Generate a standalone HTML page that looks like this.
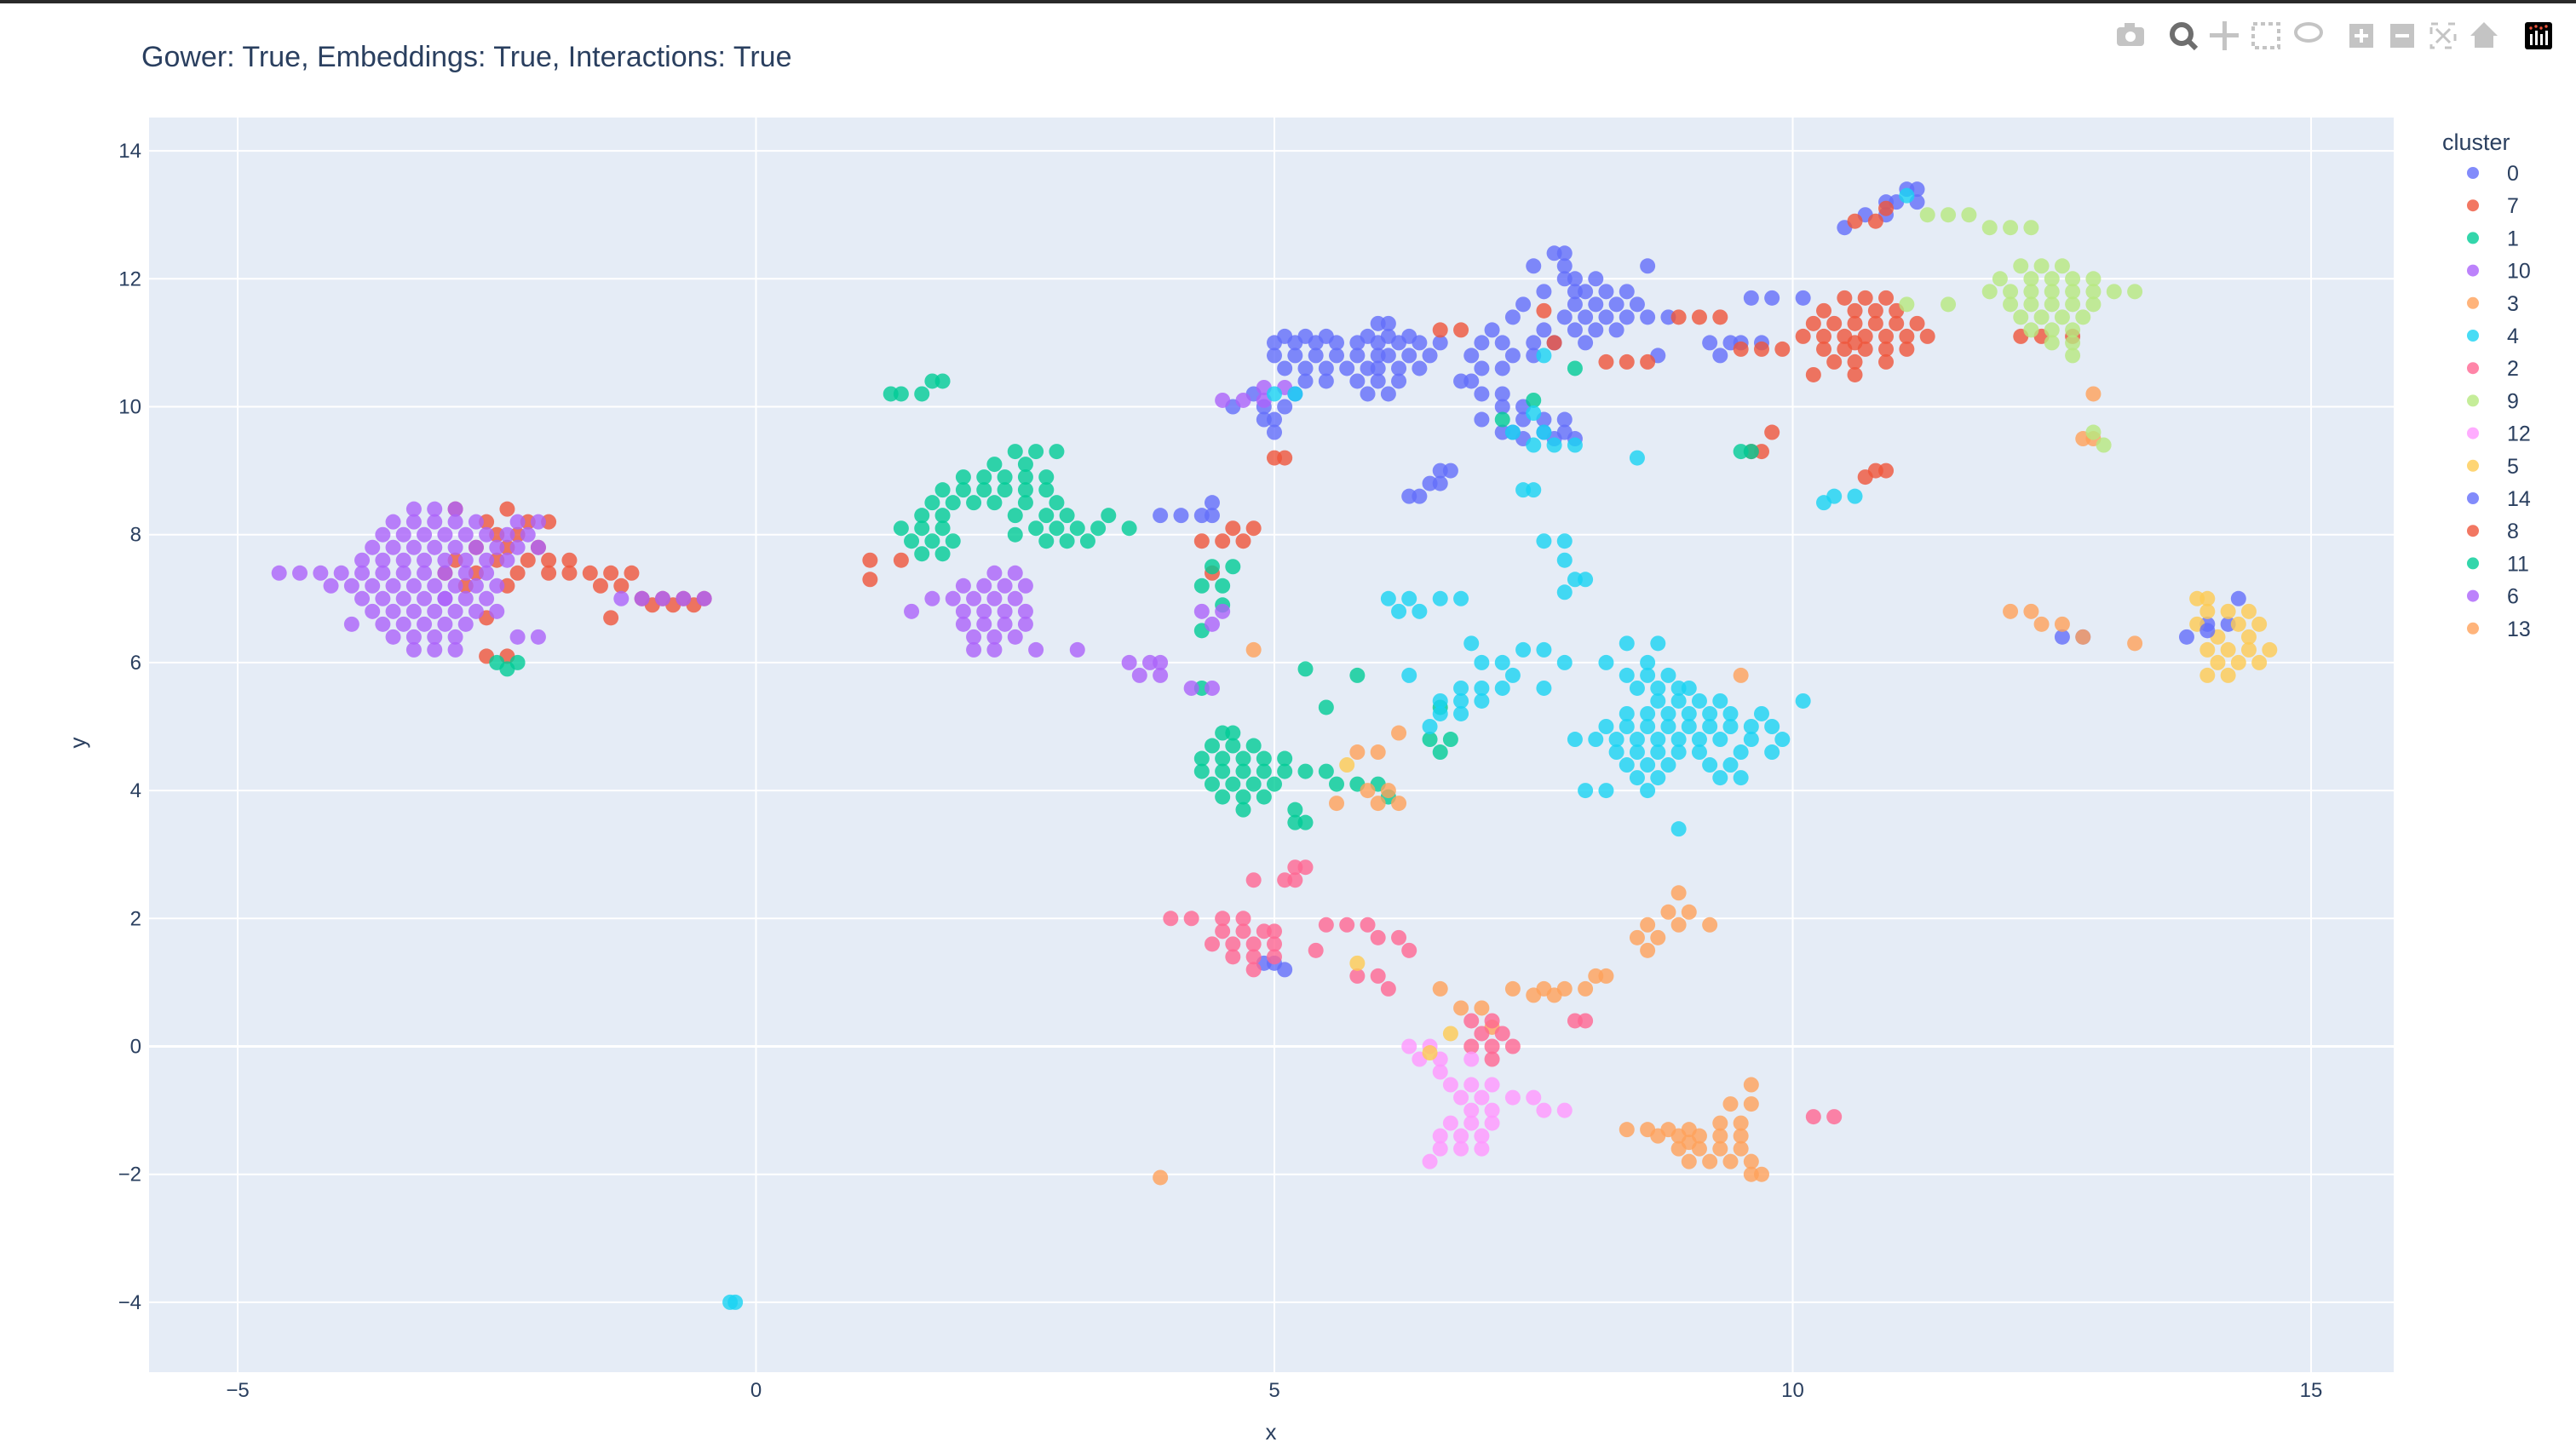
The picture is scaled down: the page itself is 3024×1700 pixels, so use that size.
<!DOCTYPE html>
<html><head><meta charset="utf-8"><style>
html,body{margin:0;padding:0;background:#fff;width:3024px;height:1700px;overflow:hidden;font-family:"Liberation Sans",sans-serif}
</style></head><body>
<svg id="chart" width="3024" height="1700" xmlns="http://www.w3.org/2000/svg" style="display:block">
<rect x="0" y="0" width="3024" height="4" fill="#2a2a2a"/>
<text x="166" y="78" font-size="34" fill="#2a3f5f">Gower: True, Embeddings: True, Interactions: True</text>
<rect x="175" y="138" width="2635" height="1473" fill="#e5ecf6"/>
<g id="grid"></g>
<g id="ticks"></g>
<g id="points"></g>
<text x="1492" y="1690" font-size="26" fill="#2a3f5f" text-anchor="middle">x</text>
<text x="100" y="872" font-size="26" fill="#2a3f5f" text-anchor="middle" transform="rotate(-90 100 872)">y</text>
<text x="2867" y="176" font-size="27" fill="#2a3f5f">cluster</text>
<g id="legend"></g>
<g fill="#c4c4c4">
 <g><rect x="2485" y="32" width="32" height="22" rx="4"/><rect x="2494" y="27" width="12" height="6"/><circle cx="2501" cy="43" r="6" fill="#fff"/></g>
 <g><circle cx="2561" cy="40" r="11" fill="none" stroke="#6e6e6e" stroke-width="6"/><line x1="2569" y1="48" x2="2578" y2="57" stroke="#6e6e6e" stroke-width="6"/></g>
 <g><rect x="2594" y="39" width="34" height="5"/><rect x="2609" y="25" width="5" height="34"/></g>
 <g><rect x="2645" y="28" width="30" height="28" fill="none" stroke="#c4c4c4" stroke-width="4" stroke-dasharray="5 4"/></g>
 <g><ellipse cx="2710" cy="38" rx="15" ry="10" fill="none" stroke="#c4c4c4" stroke-width="4"/></g>
 <g><rect x="2758" y="28" width="28" height="28"/><rect x="2764" y="40" width="16" height="4" fill="#fff"/><rect x="2770" y="34" width="4" height="16" fill="#fff"/></g>
 <g><rect x="2806" y="28" width="28" height="28"/><rect x="2812" y="40" width="16" height="4" fill="#fff"/></g>
 <g><rect x="2854" y="28" width="28" height="28" fill="none" stroke="#c4c4c4" stroke-width="3" stroke-dasharray="8 12"/><line x1="2860" y1="34" x2="2876" y2="50" stroke="#c4c4c4" stroke-width="3"/><line x1="2876" y1="34" x2="2860" y2="50" stroke="#c4c4c4" stroke-width="3"/></g>
 <g><polygon points="2916,26 2900,42 2905,42 2905,56 2927,56 2927,42 2932,42"/></g>
 <g><rect x="2964" y="26" width="32" height="32" rx="3" fill="#000"/><rect x="2970" y="40" width="3" height="13" fill="#fff"/><rect x="2976" y="36" width="3" height="17" fill="#fff"/><rect x="2982" y="40" width="3" height="13" fill="#fff"/><rect x="2988" y="36" width="3" height="17" fill="#fff"/><circle cx="2971" cy="33" r="1.7" fill="#ef553b"/><circle cx="2977" cy="31" r="1.7" fill="#ef553b"/><circle cx="2983" cy="33" r="1.7" fill="#ef553b"/><circle cx="2989" cy="31" r="1.7" fill="#ef553b"/></g>
</g>
</svg>
<script>
const xTicks = [-5, 0, 5, 10, 15];
const yTicks = [14, 12, 10, 8, 6, 4, 2, 0, -2, -4];
const clusterNames = ["0","7","1","10","3","4","2","9","12","5","14","8","11","6","13"];
const clusterColors = ["#636efa","#EF553B","#00cc96","#ab63fa","#FFA15A","#19d3f3","#FF6692","#B6E880","#FF97FF","#FECB52","#636efa","#EF553B","#00cc96","#ab63fa","#FFA15A"];
// each row: [y, [x values]]
const c0 = [[11.3,[6.0,6.1]],[11.1,[5.1,5.3,5.5,5.9,6.1,6.3]],[11.0,[5.0,5.2,5.4,5.6,5.8,6.0,6.2,6.4,6.6]],[10.8,[5.0,5.2,5.4,5.6,5.8,6.0,6.1,6.3,6.5]],[10.6,[5.1,5.3,5.5,5.7,5.9,6.0,6.2,6.4]],[10.4,[5.3,5.5,5.8,6.0,6.2,6.8,6.9]],[10.2,[4.8,5.2,5.9,6.1,7.0,7.2]],[10.0,[4.6,4.9,5.1,7.2,7.4]],[9.8,[4.9,5.0,7.0,7.4,7.6,7.8]],[9.6,[5.0,7.2,7.3,7.6,7.8]],[9.5,[7.4,7.7,7.9]],[9.0,[6.6,6.7]],[8.8,[6.5,6.6]],[8.6,[6.3,6.4]],[12.4,[7.7,7.8]],[12.2,[7.5,7.8,8.6]],[12.0,[7.8,7.9,8.1]],[11.8,[7.6,7.9,8.0,8.2,8.4]],[11.6,[7.4,7.9,8.1,8.3,8.5]],[11.4,[7.3,7.8,8.0,8.2,8.4,8.6,8.8]],[11.2,[7.1,7.6,7.9,8.1,8.3]],[11.0,[7.0,7.2,7.5,7.7,8.0,9.2,9.4,9.5,9.7]],[10.8,[6.9,7.3,7.5,8.7,9.3]],[10.6,[7.0,7.2]],[11.7,[9.6,9.8,10.1]],[13.4,[11.1,11.2]],[13.2,[10.9,11.0,11.2]],[13.0,[10.7,10.9]],[12.8,[10.5]],[8.3,[3.9,4.1,4.3,4.4]],[8.5,[4.4]],[6.6,[14.0,14.2]],[7.0,[14.3]],[6.4,[13.8,12.6,12.8]],[1.3,[4.9,5.0]],[1.2,[5.1]]];
const c7 = [[8.4,[-2.9,-2.4]],[8.2,[-2.6,-2.2,-2.0]],[8.0,[-2.5,-2.3]],[7.8,[-2.7,-2.4,-2.1]],[7.6,[-2.9,-2.5,-2.2,-2.0,-1.8]],[7.4,[-3.0,-2.7,-2.3,-2.0,-1.8,-1.6,-1.4,-1.2]],[7.2,[-2.8,-2.4,-1.5,-1.3]],[7.0,[-1.1,-0.9,-0.7,-0.5]],[6.9,[-1.0,-0.8,-0.6]],[6.7,[-1.4,-2.6]],[6.1,[-2.6,-2.4]],[7.6,[1.1,1.4]],[7.3,[1.1]],[7.9,[4.3,4.5,4.7]],[8.1,[4.6,4.8]],[7.4,[4.4]],[9.2,[5.0,5.1]],[11.7,[10.5,10.7,10.9]],[11.5,[10.3,10.6,10.8,11.0]],[11.3,[10.2,10.4,10.6,10.8,11.0,11.2]],[11.1,[10.1,10.3,10.5,10.7,10.9,11.1,11.3]],[10.9,[10.3,10.5,10.7,10.9,11.1]],[10.7,[10.4,10.6,10.9]],[10.5,[10.2,10.6]],[12.9,[10.6,10.8]],[13.1,[10.9]],[10.7,[8.2,8.4,8.6]],[10.9,[9.5,9.7,9.9]],[11.4,[8.9,9.1,9.3]],[11.1,[12.2,12.4,12.7]],[9.6,[9.8]],[9.3,[9.6,9.7]],[9.0,[10.8,10.9]],[8.9,[10.7]],[11.2,[6.6,6.8]],[11.0,[7.7]],[11.5,[7.6]]];
const c1 = [[10.4,[1.7,1.8]],[10.2,[1.3,1.4,1.6]],[9.3,[2.5,2.7,2.9]],[9.1,[2.3,2.6]],[8.9,[2.0,2.2,2.4,2.6,2.8]],[8.7,[1.8,2.0,2.2,2.4,2.6,2.8]],[8.5,[1.7,1.9,2.1,2.3,2.6,2.9]],[8.3,[1.6,1.8,2.5,2.8,3.0,3.4]],[8.1,[1.4,1.6,1.8,2.7,2.9,3.1,3.3,3.6]],[7.9,[1.5,1.7,1.9,2.8,3.0,3.2]],[7.7,[1.6,1.8]],[7.5,[4.4,4.6]],[7.2,[4.3,4.5]],[6.9,[4.5]],[6.5,[4.3]],[4.9,[4.5,4.6]],[4.7,[4.4,4.6,4.8]],[4.5,[4.3,4.5,4.7,4.9,5.1]],[4.3,[4.3,4.5,4.7,4.9,5.1,5.3,5.5]],[4.1,[4.4,4.6,4.8,5.0,5.6,5.8,6.0]],[3.9,[4.5,4.7,4.9,6.1]],[3.7,[4.7,5.2]],[3.5,[5.2,5.3]],[4.8,[6.5,6.7]],[4.6,[6.6]],[5.9,[5.3]],[5.6,[4.3]],[5.3,[6.6,5.5]],[5.8,[5.8]],[6.0,[-2.5,-2.3]],[5.9,[-2.4]],[9.3,[9.5,9.6]],[9.8,[7.2]],[10.1,[7.5]],[10.6,[7.9]]];
const c10 = [[8.4,[-3.3,-3.1,-2.9]],[8.2,[-3.5,-3.3,-3.1,-2.9,-2.7,-2.3,-2.1]],[8.0,[-3.6,-3.4,-3.2,-3.0,-2.8,-2.6,-2.4,-2.2]],[7.8,[-3.7,-3.5,-3.3,-3.1,-2.9,-2.7,-2.5,-2.3,-2.1]],[7.6,[-3.8,-3.6,-3.4,-3.2,-3.0,-2.8,-2.6,-2.4]],[7.4,[-4.6,-4.4,-4.2,-4.0,-3.8,-3.6,-3.4,-3.2,-3.0,-2.8,-2.6]],[7.2,[-4.1,-3.9,-3.7,-3.5,-3.3,-3.1,-2.9,-2.7,-2.5]],[7.0,[-3.8,-3.6,-3.4,-3.2,-3.0,-2.8,-2.6,-1.3,-1.1,-0.9,-0.7,-0.5]],[6.8,[-3.7,-3.5,-3.3,-3.1,-2.9,-2.7,-2.5]],[6.6,[-3.9,-3.6,-3.4,-3.2,-3.0,-2.8]],[6.4,[-3.5,-3.3,-3.1,-2.9,-2.3,-2.1]],[6.2,[-3.3,-3.1,-2.9]],[7.4,[2.3,2.5]],[7.2,[2.0,2.2,2.4,2.6]],[7.0,[1.7,1.9,2.1,2.3,2.5]],[6.8,[1.5,2.0,2.2,2.4,2.6]],[6.6,[2.0,2.2,2.4,2.6]],[6.4,[2.1,2.3,2.5]],[6.2,[2.1,2.3,2.7,3.1]],[6.0,[3.6,3.8,3.9]],[5.8,[3.7,3.9]],[5.6,[4.2,4.4]],[6.8,[4.3,4.5]],[6.6,[4.4]],[10.1,[4.5,4.7,4.9]],[10.3,[4.9,5.1]]];
const c3 = [[-1.3,[8.6,8.8,9.0,8.4]],[-1.4,[8.7,8.9,9.1,9.3,9.5]],[-1.6,[8.9,9.1,9.3,9.5]],[-1.8,[9.0,9.2,9.4,9.6]],[-2.0,[9.6,9.7]],[-1.2,[9.3,9.5]],[-0.9,[9.4,9.6]],[-0.6,[9.6]],[2.4,[8.9]],[2.1,[8.8,9.0]],[1.9,[8.6,8.9,9.2]],[1.7,[8.5,8.7]],[1.5,[8.6]],[1.1,[8.1,8.2]],[0.9,[7.6,7.8,8.0,6.6,7.3]],[0.8,[7.5,7.7]],[4.9,[6.2]],[4.6,[5.8,6.0]],[4.0,[5.9,6.1]],[3.8,[5.6,6.0,6.2]],[6.8,[12.1,12.3]],[6.6,[12.4,12.6]],[6.4,[12.8]],[6.3,[13.3]],[10.2,[12.9]],[9.5,[12.8,12.9]],[-2.05,[3.9]],[0.6,[6.8,7.0]],[0.3,[7.1]],[6.2,[4.8]],[5.8,[9.5]]];
const c4 = [[6.0,[8.6,7.8,8.2,7.0,7.2]],[5.8,[8.4,8.6,8.8,7.3,6.3]],[5.6,[7.6,8.5,8.7,8.9,9.0,6.8,7.0,7.2]],[5.4,[8.7,8.9,9.1,9.3,6.6,6.8,7.0,10.1]],[5.2,[8.4,8.6,8.8,9.0,9.2,9.4,9.7,6.6,6.8]],[5.0,[8.2,8.4,8.6,8.8,9.0,9.2,9.4,9.6,9.8,6.5]],[4.8,[7.9,8.1,8.3,8.5,8.7,8.9,9.1,9.3,9.6,9.9]],[4.6,[8.3,8.5,8.7,8.9,9.1,9.5,9.8]],[4.4,[8.4,8.6,8.8,9.2,9.4]],[4.2,[8.5,8.7,9.3,9.5]],[4.0,[8.0,8.2,8.6]],[3.4,[8.9]],[6.3,[8.4,8.7,6.9]],[6.2,[7.4,7.6]],[7.0,[6.1,6.3,6.6,6.8]],[6.8,[6.2,6.4]],[7.9,[7.6,7.8]],[7.6,[7.8]],[7.3,[7.9,8.0]],[7.1,[7.8]],[8.7,[7.4,7.5]],[9.4,[7.5,7.7,7.9]],[9.6,[7.3,7.6]],[9.9,[7.5]],[9.2,[8.5]],[8.6,[10.4,10.6]],[8.5,[10.3]],[10.2,[5.2,5.0]],[10.8,[7.6]],[13.3,[11.1]],[-4.0,[-0.2,-0.25]]];
const c2 = [[2.0,[4.5,4.7,4.0,4.2]],[1.8,[4.5,4.7,4.9,5.0]],[1.6,[4.4,4.6,4.8,5.0]],[1.4,[4.6,4.8,5.0]],[1.2,[4.8]],[2.6,[4.8,5.1,5.2]],[2.8,[5.2,5.3]],[1.9,[5.5,5.7,5.9]],[1.7,[6.0,6.2]],[1.5,[5.4,6.3]],[1.1,[5.8,6.0]],[0.9,[6.1]],[0.4,[6.9,7.1,7.9,8.0]],[0.2,[7.0,7.2]],[0.0,[6.9,7.1,7.3]],[-0.2,[7.1]],[-1.1,[10.2,10.4]]];
const c9 = [[12.2,[12.2,12.4,12.6]],[12.0,[12.0,12.3,12.5,12.7,12.9]],[11.8,[11.9,12.1,12.3,12.5,12.7,12.9,13.1,13.3]],[11.6,[12.1,12.3,12.5,12.7,12.9,11.1,11.5]],[11.4,[12.2,12.4,12.6,12.8]],[11.2,[12.3,12.5,12.7]],[11.0,[12.5,12.7]],[10.8,[12.7]],[13.0,[11.3,11.5,11.7]],[12.8,[11.9,12.1,12.3]],[9.6,[12.9]],[9.4,[13.0]]];
const c12 = [[0.0,[6.3,6.5]],[-0.2,[6.4,6.6,6.9]],[-0.4,[6.6]],[-0.6,[6.7,6.9,7.1]],[-0.8,[6.8,7.0,7.3,7.5]],[-1.0,[6.9,7.1,7.6,7.8]],[-1.2,[6.7,6.9,7.1]],[-1.4,[6.6,6.8,7.0]],[-1.6,[6.6,6.8,7.0]],[-1.8,[6.5]]];
const c5 = [[7.0,[13.9,14.0]],[6.8,[14.0,14.2,14.4]],[6.6,[13.9,14.3,14.5]],[6.4,[14.1,14.4]],[6.2,[14.0,14.2,14.4,14.6]],[6.0,[14.1,14.3,14.5]],[5.8,[14.0,14.2]],[-0.1,[6.5]],[0.2,[6.7]],[1.3,[5.8]],[4.4,[5.7]]];
const c14 = [[6.5,[14.0]]];
const c8 = [[11.0,[10.6]]];
const c11 = [[8.0,[2.5]]];
const c6 = [[7.0,[-3.0]]];
const c13 = [[-1.5,[9.0]]];
const seriesList = [c0,c7,c1,c10,c3,c4,c2,c9,c12,c5,c14,c8,c11,c6,c13];

const NS = "http://www.w3.org/2000/svg";
const PL = 175, PR = 2810, PT = 138, PB = 1611;
function xs(v){ return 887.5 + 121.7 * v; }
function ys(v){ return 1228.5 - 75.1 * v; }

const grid = document.getElementById('grid');
const ticks = document.getElementById('ticks');
xTicks.forEach(t => {
  const l = document.createElementNS(NS,'line');
  l.setAttribute('x1', xs(t)); l.setAttribute('x2', xs(t));
  l.setAttribute('y1', PT); l.setAttribute('y2', PB);
  l.setAttribute('stroke','#fff'); l.setAttribute('stroke-width','2');
  
  
  grid.appendChild(l);
  const tx = document.createElementNS(NS,'text');
  tx.setAttribute('x', xs(t)); tx.setAttribute('y', 1640);
  tx.setAttribute('text-anchor','middle'); tx.setAttribute('font-size','24'); tx.setAttribute('fill','#2a3f5f');
  tx.textContent = t < 0 ? '\u2212' + Math.abs(t) : String(t);
  
  
  ticks.appendChild(tx);
});
yTicks.forEach(t => {
  const l = document.createElementNS(NS,'line');
  l.setAttribute('x1', PL); l.setAttribute('x2', PR);
  l.setAttribute('y1', ys(t)); l.setAttribute('y2', ys(t));
  l.setAttribute('stroke','#fff'); l.setAttribute('stroke-width', t === 0 ? '3' : '2');
  
  
  grid.appendChild(l);
  const tx = document.createElementNS(NS,'text');
  tx.setAttribute('x', 166); tx.setAttribute('y', ys(t) + 8);
  tx.setAttribute('text-anchor','end'); tx.setAttribute('font-size','24'); tx.setAttribute('fill','#2a3f5f');
  tx.textContent = t < 0 ? '\u2212' + Math.abs(t) : String(t);
  
  
  ticks.appendChild(tx);
});

const pts = document.getElementById('points');
seriesList.forEach((rows, i) => {
  const g = document.createElementNS(NS,'g');
  g.setAttribute('fill', clusterColors[i]);
  g.setAttribute('fill-opacity', '0.8');
  
  
  rows.forEach(r => {
    r[1].forEach(xv => {
      const c = document.createElementNS(NS,'circle');
      c.setAttribute('cx', xs(xv)); c.setAttribute('cy', ys(r[0])); c.setAttribute('r', 9);
      
      
      g.appendChild(c);
    });
  });
  pts.appendChild(g);
});

const leg = document.getElementById('legend');
clusterNames.forEach((n, i) => {
  const y = 203 + i * 38.2;
  const g = document.createElementNS(NS,'g');
  
  
  const c = document.createElementNS(NS,'circle');
  c.setAttribute('cx', 2903); c.setAttribute('cy', y); c.setAttribute('r', 7);
  c.setAttribute('fill', clusterColors[i]); c.setAttribute('fill-opacity','0.8');
  g.appendChild(c);
  const t = document.createElementNS(NS,'text');
  t.setAttribute('x', 2943); t.setAttribute('y', y + 9);
  t.setAttribute('font-size','25'); t.setAttribute('fill','#2a3f5f');
  t.textContent = n;
  g.appendChild(t);
  leg.appendChild(g);
});
</script>
</body></html>
